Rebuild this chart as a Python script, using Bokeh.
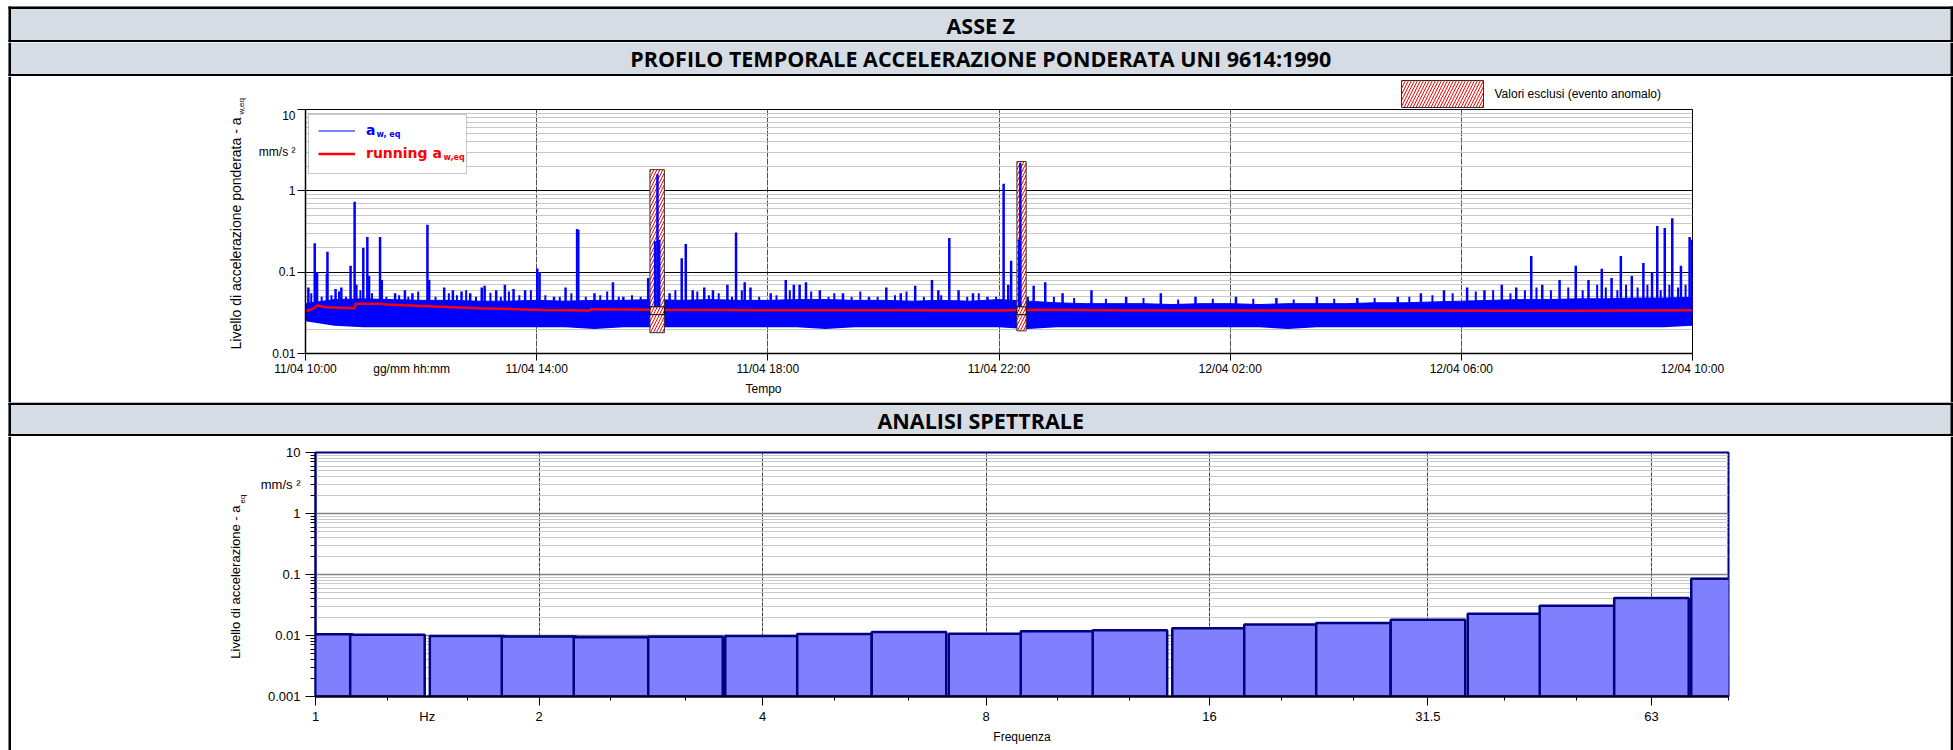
import math
from bokeh.plotting import figure
from bokeh.layouts import column, row
from bokeh.models import (Range1d, FixedTicker, Label, Legend, LegendItem, BoxAnnotation,
                          LinearAxis, LogAxis, Title)
from bokeh.core.properties import value
from bokeh.embed import file_html
from bokeh.resources import INLINE

# ---------------- data ----------------
HEADER_1 = "ASSE Z"
HEADER_2 = "PROFILO TEMPORALE ACCELERAZIONE PONDERATA UNI 9614:1990"
HEADER_3 = "ANALISI SPETTRALE"

# time axis: hours elapsed from 11/04 10:00
time_ticks = [0, 4, 8, 12, 16, 20, 24]
time_labels = ["11/04 10:00", "11/04 14:00", "11/04 18:00", "11/04 22:00",
               "12/04 02:00", "12/04 06:00", "12/04 10:00"]
time_unit_label = "gg/mm hh:mm"
time_unit_pos = 1.835
time_title = "Tempo"

# dense a_w,eq trace: envelope of the continuous band (every half hour)
band_t = [0.0, 0.5, 1.0, 1.5, 2.0, 2.5, 3.0, 3.5, 4.0, 4.5,
          5.0, 5.5, 6.0, 6.5, 7.0, 7.5, 8.0, 8.5, 9.0, 9.5,
          10.0, 10.5, 11.0, 11.5, 12.0, 12.5, 13.0, 13.5, 14.0, 14.5,
          15.0, 15.5, 16.0, 16.5, 17.0, 17.5, 18.0, 18.5, 19.0, 19.5,
          20.0, 20.5, 21.0, 21.5, 22.0, 22.5, 23.0, 23.5, 24.0]
band_lo = [0.025, 0.022, 0.021, 0.021, 0.021, 0.021, 0.021, 0.021, 0.021, 0.021,
           0.020, 0.021, 0.021, 0.021, 0.021, 0.021, 0.021, 0.021, 0.020, 0.021,
           0.021, 0.021, 0.021, 0.021, 0.021, 0.020, 0.021, 0.021, 0.021, 0.021,
           0.021, 0.021, 0.021, 0.021, 0.020, 0.021, 0.021, 0.021, 0.021, 0.021,
           0.021, 0.021, 0.021, 0.021, 0.021, 0.021, 0.021, 0.021, 0.022]
band_hi = [0.041, 0.046, 0.047, 0.046, 0.045, 0.045, 0.044, 0.044, 0.045, 0.044,
           0.045, 0.045, 0.046, 0.045, 0.046, 0.045, 0.045, 0.046, 0.046, 0.045,
           0.045, 0.044, 0.045, 0.044, 0.046, 0.044, 0.042, 0.041, 0.041, 0.041,
           0.040, 0.041, 0.041, 0.040, 0.041, 0.041, 0.041, 0.042, 0.042, 0.043,
           0.044, 0.045, 0.046, 0.046, 0.047, 0.047, 0.048, 0.048, 0.049]

# isolated peaks of the a_w,eq trace
spike_t = [0.05, 0.16, 0.20, 0.37, 0.38, 0.52, 0.62, 0.78, 0.85, 0.88,
           1.00, 1.07, 1.10, 1.29, 1.32, 1.55, 1.72, 1.85, 2.11, 2.14,
           2.40, 2.55, 2.70, 2.85, 3.05, 3.10, 3.30, 3.45, 3.60, 3.80,
           4.01, 4.05, 4.30, 4.50, 4.70, 4.72, 5.00, 5.32, 5.50, 5.93,
           6.05, 6.09, 6.12, 6.30, 6.51, 6.58, 6.70, 6.90, 7.05, 7.30,
           7.45, 7.60, 7.70, 8.05, 8.31, 8.45, 8.55, 8.66, 8.90, 9.30,
           9.75, 10.05, 10.30, 10.55, 10.84, 10.95, 11.14, 11.30, 11.55, 11.80,
           12.08, 12.16, 12.21, 12.35, 12.37, 12.60, 12.80, 13.10, 13.60, 14.20,
           14.80, 15.40, 16.10, 16.80, 17.50, 18.20, 18.90, 19.30, 19.70, 20.10,
           20.40, 20.70, 20.95, 21.21, 21.40, 21.70, 21.98, 22.20, 22.43, 22.60,
           22.76, 22.95, 23.15, 23.30, 23.39, 23.52, 23.65, 23.80, 23.95, 23.99]
spike_v = [0.065, 0.226, 0.100, 0.095, 0.178, 0.062, 0.065, 0.120, 0.735, 0.070,
           0.200, 0.270, 0.090, 0.270, 0.080, 0.055, 0.060, 0.055, 0.384, 0.080,
           0.065, 0.060, 0.058, 0.055, 0.065, 0.068, 0.060, 0.070, 0.062, 0.060,
           0.111, 0.100, 0.050, 0.065, 0.339, 0.330, 0.055, 0.075, 0.050, 0.085,
           0.240, 1.600, 0.250, 0.055, 0.148, 0.222, 0.060, 0.065, 0.060, 0.070,
           0.308, 0.075, 0.065, 0.055, 0.080, 0.070, 0.070, 0.075, 0.060, 0.055,
           0.050, 0.065, 0.055, 0.068, 0.080, 0.060, 0.263, 0.060, 0.055, 0.050,
           1.220, 0.070, 0.138, 0.250, 2.180, 0.068, 0.075, 0.055, 0.060, 0.050,
           0.055, 0.050, 0.050, 0.048, 0.050, 0.048, 0.050, 0.055, 0.060, 0.065,
           0.060, 0.070, 0.065, 0.158, 0.070, 0.080, 0.120, 0.080, 0.110, 0.085,
           0.158, 0.090, 0.130, 0.100, 0.370, 0.350, 0.460, 0.120, 0.270, 0.250]

# small peaks riding on the band
minor_t = [0.10, 0.28, 0.45, 0.58, 0.70, 0.95, 1.15, 1.40, 1.62, 1.78,
           1.95, 2.25, 2.48, 2.62, 2.78, 2.95, 3.20, 3.38, 3.52, 3.70,
           3.90, 4.15, 4.40, 4.60, 4.85, 5.10, 5.22, 5.42, 5.65, 5.80,
           6.40, 6.78, 6.98, 7.15, 7.38, 7.55, 7.85, 8.15, 8.38, 8.75,
           9.05, 9.15, 9.45, 9.60, 9.90, 10.20, 10.40, 10.70, 11.00, 11.45,
           11.65, 11.95, 12.50, 12.95, 13.30, 13.85, 14.50, 15.10, 15.70, 16.40,
           17.10, 17.80, 18.50, 19.10, 19.50, 19.85, 20.25, 20.55, 20.85, 21.10,
           21.30, 21.55, 21.85, 22.10, 22.35, 22.50, 22.70, 22.85, 23.05, 23.22,
           23.45, 23.60, 23.75, 23.88]
minor_v = [0.055, 0.050, 0.052, 0.058, 0.050, 0.060, 0.055, 0.050, 0.052, 0.050,
           0.058, 0.050, 0.055, 0.052, 0.060, 0.050, 0.056, 0.050, 0.058, 0.052,
           0.060, 0.052, 0.050, 0.055, 0.050, 0.052, 0.058, 0.050, 0.052, 0.050,
           0.060, 0.058, 0.052, 0.055, 0.050, 0.060, 0.050, 0.052, 0.060, 0.058,
           0.050, 0.055, 0.050, 0.058, 0.050, 0.052, 0.058, 0.050, 0.052, 0.050,
           0.055, 0.050, 0.050, 0.050, 0.048, 0.047, 0.048, 0.046, 0.047, 0.047,
           0.046, 0.047, 0.048, 0.050, 0.052, 0.055, 0.058, 0.060, 0.055, 0.060,
           0.065, 0.060, 0.065, 0.060, 0.070, 0.065, 0.060, 0.070, 0.065, 0.070,
           0.060, 0.070, 0.065, 0.070]

# running a_w,eq
run_t = [0.0, 0.15, 0.20, 0.35, 0.85, 0.87, 1.30, 1.40, 2.00, 3.00, 4.10,
         4.90, 4.95, 6.00, 8.00, 10.00, 12.00, 12.40, 14.00, 18.00, 22.00, 24.00]
run_v = [0.033, 0.036, 0.039, 0.037, 0.036, 0.041, 0.041, 0.040, 0.0385, 0.036, 0.0343,
         0.0337, 0.035, 0.0345, 0.034, 0.034, 0.0337, 0.0345, 0.034, 0.0337, 0.0335, 0.034]

# excluded (anomalous) intervals
excl_start = [5.96, 12.31]
excl_end = [6.21, 12.47]
excl_lo = [0.018, 0.019]
excl_hi = [1.82, 2.29]
excl_box_lo = [0.030, 0.030]
excl_box_hi = [0.0375, 0.0375]
excl_label = "Valori esclusi (evento anomalo)"

# third-octave spectrum
freq_centres = [1, 1.25, 1.6, 2, 2.5, 3.15, 4, 5, 6.3, 8,
                10, 12.5, 16, 20, 25, 31.5, 40, 50, 63, 80]
spectrum_vals = [0.0105, 0.0103, 0.0098, 0.0096, 0.0094, 0.0095, 0.0098, 0.0106, 0.0114, 0.0107,
                 0.0117, 0.0122, 0.0132, 0.0151, 0.0160, 0.0181, 0.0227, 0.0307, 0.0410, 0.0851]
freq_ticks = [1, 2, 4, 8, 16, 31.5, 63]
freq_labels = ["1", "2", "4", "8", "16", "31.5", "63"]
freq_minor = [1.25, 1.6, 2.5, 3.15, 5, 6.3, 10, 12.5, 20, 25, 40, 50, 80]
freq_unit_label = "Hz"
freq_unit_pos = 1.414
freq_title = "Frequenza"

acc_ticks_1 = [0.01, 0.1, 1, 10]
acc_labels_1 = ["0.01", "0.1", "1", "10"]
acc_ticks_2 = [0.001, 0.01, 0.1, 1, 10]
acc_labels_2 = ["0.001", "0.01", "0.1", "1", "10"]
acc_unit_label = "mm/s \u00b2"
acc_unit_pos_1 = 3.04
acc_unit_pos_2 = 2.98
ytitle_1 = "Livello di accelerazione ponderata - a"
ytitle_1_sub = "w,eq"
ytitle_2 = "Livello di accelerazione - a"
ytitle_2_sub = "eq"

# ---------------- layout constants ----------------
W = 1953
FONT = "Liberation Sans"
HDR_BG = "#D6DCE4"
LW = 2.5
XL = 8      # left border of the table
XR = 1950   # right border of the table


def log_minor(lo_exp, hi_exp):
    return [m * 10.0 ** e for e in range(lo_exp, hi_exp) for m in range(2, 10)]


def bare(width, height, xr, yr, bg="white", **kw):
    opts = dict(min_border=0)
    opts.update(kw)
    return figure(width=width, height=height, x_range=xr, y_range=yr,
                  x_axis_type=None, y_axis_type=None, toolbar_location=None,
                  output_backend="svg", title=None,
                  background_fill_color=bg, border_fill_color=bg,
                  outline_line_color=None, **opts)


def header(text, y0, y1, top_line, top_gap, text_y):
    h = y1 - y0
    p = bare(W, h, Range1d(0, W), Range1d(y1, y0))
    p.quad(left=[XL], right=[XR + LW], top=[y0 + top_gap], bottom=[y1],
           fill_color=HDR_BG, line_color=None)
    left = [XL, XR, XL]
    right = [XL + LW, XR + LW, XR + LW]
    top = [y0 + top_gap, y0 + top_gap, y1 - LW]
    bottom = [y1, y1, y1]
    if top_line:
        left.append(XL); right.append(XR + LW); top.append(y0 + top_gap); bottom.append(y0 + top_gap + LW)
    p.quad(left=left, right=right, top=top, bottom=bottom, fill_color="black", line_color=None)
    p.text(x=[(XL + XR + LW) / 2], y=[text_y], text=[text], text_font=value("Open Sans"),
           text_font_style="bold", text_font_size="21.5px", text_align="center",
           text_baseline="middle", text_color="black")
    return p


def left_strip(h):
    p = bare(XL + 3, h, Range1d(0, XL + 3), Range1d(0, 1))
    p.quad(left=[XL], right=[XL + LW], bottom=[0], top=[1], fill_color="black", line_color=None)
    return p


def right_strip(h):
    p = bare(W - XR, h, Range1d(0, W - XR), Range1d(0, 1))
    p.quad(left=[0], right=[LW], bottom=[0], top=[1], fill_color="black", line_color=None)
    return p


def side_titles(x0, x1, y0, y1, items):
    p = bare(x1 - x0, y1 - y0, Range1d(x0, x1), Range1d(y1, y0))
    for txt, x, y, size, align in items:
        p.text(x=[x], y=[y], text=[txt], angle=math.pi / 2, text_font=value(FONT),
               text_font_size=size, text_align=align, text_baseline="middle",
               text_color="black")
    return p


def tick_only(ax, out, minor_out=0):
    ax.major_tick_out = out
    ax.minor_tick_out = minor_out
    ax.major_tick_in = 0
    ax.minor_tick_in = 0
    ax.major_label_text_font_size = "0px"
    ax.major_label_standoff = 0
    ax.axis_line_color = "black"
    ax.major_tick_line_color = "black"
    ax.minor_tick_line_color = "black"


def label_axis(cls, ticks, labels, size, standoff):
    order = sorted(range(len(ticks)), key=lambda i: ticks[i])
    ts = [ticks[i] for i in order]
    return cls(ticker=FixedTicker(ticks=ts),
               major_label_overrides={ticks[i]: labels[i] for i in order},
               major_tick_out=0, major_tick_in=0, minor_tick_out=0, minor_tick_in=0,
               axis_line_color=None, major_label_standoff=standoff,
               major_label_text_font=FONT, major_label_text_font_size=size,
               major_label_text_color="black",
               axis_label_text_font=FONT, axis_label_text_font_style="normal",
               axis_label_text_color="black")


# ---------------- chart 1: time profile ----------------
Y1A, Y1L, Y1B = 76, 108, 402
P1X = 250
F1L, F1R = 305, 1692   # frame edges of the time chart on the page

# legend strip above the plot frame (excluded values); its frame is aligned with p1's
lg_fig = bare(XR - P1X, Y1L - Y1A, Range1d(F1L, F1R), Range1d(Y1L, Y1A),
              min_border_left=F1L - P1X, min_border_right=XR - F1R,
              min_border_top=0, min_border_bottom=0)
lg_fig.quad(left=[1401], right=[1483], top=[80], bottom=[107],
            fill_color="white", line_color="#303030", line_width=1,
            hatch_pattern="/", hatch_color="#FF0000", hatch_weight=1, hatch_scale=6)
lg_fig.text(x=[1494], y=[93.5], text=[excl_label], text_font=value(FONT),
            text_font_size="12px", text_align="left", text_baseline="middle",
            text_color="black")

p1 = figure(width=XR - P1X, height=Y1B - Y1L, x_range=Range1d(0, 24), y_range=Range1d(0.01, 10),
            y_axis_type="log", toolbar_location=None, output_backend="svg", title=None,
            min_border_left=F1L - P1X, min_border_right=XR - F1R, min_border_top=109 - Y1L,
            min_border_bottom=49, outline_line_color="black", outline_line_width=1,
            background_fill_color="white")

xt1 = FixedTicker(ticks=time_ticks)
yt1 = FixedTicker(ticks=acc_ticks_1, minor_ticks=log_minor(-2, 1))
p1.xaxis.ticker = xt1
p1.xgrid.ticker = xt1
p1.yaxis.ticker = yt1
p1.ygrid.ticker = yt1
p1.xaxis.major_label_overrides = {t: "" for t in time_ticks}
p1.yaxis.major_label_overrides = {t: "" for t in acc_ticks_1}
tick_only(p1.xaxis[0], 7)
tick_only(p1.yaxis[0], 8)
p1.xaxis.axis_line_width = 1.5
p1.yaxis.axis_line_width = 1.5

ax1x = label_axis(LinearAxis, time_ticks + [time_unit_pos], time_labels + [time_unit_label],
                  "12px", 1)
p1.add_layout(ax1x, "below")
ax1y = label_axis(LogAxis, acc_ticks_1 + [acc_unit_pos_1], acc_labels_1 + [acc_unit_label],
                  "12px", 2)
p1.add_layout(ax1y, "left")
p1.add_layout(Title(text=time_title, align="left", offset=440, standoff=2,
                    text_font=FONT, text_font_size="12px", text_font_style="normal",
                    text_color="black"), "below")

p1.xgrid.grid_line_color = "#505050"
p1.xgrid.grid_line_dash = "6 1"
p1.ygrid.grid_line_color = "black"
p1.ygrid.grid_line_width = 1.2
p1.ygrid.minor_grid_line_color = "#c8c8c8"

band = p1.varea(x=band_t, y1=band_lo, y2=band_hi, fill_color="#0000FF")
band_line = p1.line(x=band_t, y=band_hi, line_color="#0000FF", line_width=1)
p1.segment(x0=minor_t, y0=[0.03] * len(minor_t), x1=minor_t, y1=minor_v,
           line_color="#0000FF", line_width=2)
excl = p1.quad(left=excl_start, right=excl_end, bottom=excl_lo, top=excl_hi,
               fill_color="white", line_color="#303030", line_width=1,
               hatch_pattern="/", hatch_color="#FF0000", hatch_weight=1, hatch_scale=6)
p1.segment(x0=spike_t, y0=[0.03] * len(spike_t), x1=spike_t, y1=spike_v,
           line_color="#0000FF", line_width=2.5)
running = p1.line(x=run_t, y=run_v, line_color="#FF0000", line_width=2.5)
p1.quad(left=excl_start, right=excl_end, bottom=excl_box_lo, top=excl_box_hi,
        fill_color="white", line_color="black", line_width=1,
        hatch_pattern="/", hatch_color="#FF0000", hatch_weight=1, hatch_scale=6)

# series legend
p1.add_layout(BoxAnnotation(left=0.052, right=2.788, bottom=1.63, top=8.68,
                            fill_color="white", fill_alpha=1.0,
                            line_color="#404040", line_width=1, level="annotation"))
for item_label, rend, col, loc in (("a", band_line, "#0000FF", (13, 214.5)),
                                   ("running a", running, "#FF0000", (13, 191.5))):
    lg = Legend(items=[LegendItem(label=value(item_label), renderers=[rend])], location=loc,
                padding=0, margin=0, spacing=0, glyph_width=37, glyph_height=17,
                label_height=17, label_standoff=11, border_line_alpha=0,
                background_fill_alpha=0, label_text_font="DejaVu Sans",
                label_text_font_style="bold", label_text_font_size="14px",
                label_text_color=col)
    p1.add_layout(lg)
for txt, x, y, col in (("w, eq", 1.23, 4.92, "#0000FF"), ("w,eq", 2.39, 2.56, "#FF0000")):
    p1.add_layout(Label(x=x, y=y, text=txt, text_font="DejaVu Sans", text_font_style="bold",
                        text_font_size="8px", text_color=col, text_baseline="middle",
                        text_align="left"))

t1 = side_titles(XL + 3, P1X, Y1A, Y1B,
                 [(ytitle_1, 235, 117, "14px", "right"),
                  (ytitle_1_sub, 241, 114, "8px", "left")])

# ---------------- chart 2: spectrum ----------------
Y2A, Y2B = 436, 750
P2X = 257
p2 = figure(width=XR - P2X, height=Y2B - Y2A, x_range=Range1d(1, 80), y_range=Range1d(0.001, 10),
            x_axis_type="log", y_axis_type="log", toolbar_location=None,
            output_backend="svg", title=None,
            min_border_left=313 - P2X, min_border_right=XR - 1728, min_border_top=16,
            min_border_bottom=Y2B - 696,
            outline_line_color="#000080", outline_line_width=2, background_fill_color="white")

xt2 = FixedTicker(ticks=freq_ticks, minor_ticks=freq_minor)
yt2 = FixedTicker(ticks=acc_ticks_2, minor_ticks=log_minor(-3, 1))
p2.xaxis.ticker = xt2
p2.xgrid.ticker = xt2
p2.yaxis.ticker = yt2
p2.ygrid.ticker = yt2
p2.xaxis.major_label_overrides = {t: "" for t in freq_ticks}
p2.yaxis.major_label_overrides = {t: "" for t in acc_ticks_2}
tick_only(p2.xaxis[0], 9, 4)
tick_only(p2.yaxis[0], 10, 5)
p2.xaxis.axis_line_width = 2
p2.yaxis.axis_line_width = 2
p2.yaxis.axis_line_color = "#000080"

ax2x = label_axis(LogAxis, freq_ticks + [freq_unit_pos], freq_labels + [freq_unit_label],
                  "13px", 3)
ax2x.axis_label = freq_title
ax2x.axis_label_text_font_size = "12px"
ax2x.axis_label_standoff = 3
p2.add_layout(ax2x, "below")
ax2y = label_axis(LogAxis, acc_ticks_2 + [acc_unit_pos_2], acc_labels_2 + [acc_unit_label],
                  "13px", 5)
p2.add_layout(ax2y, "left")

p2.xgrid.grid_line_color = "#404040"
p2.xgrid.grid_line_dash = "4 1"
p2.xgrid.minor_grid_line_color = None
p2.ygrid.grid_line_color = "#808080"
p2.ygrid.grid_line_width = 1.5
p2.ygrid.minor_grid_line_color = "#c8c8c8"

bar_left = [c * 2 ** (-1 / 6) for c in freq_centres]
bar_right = [c * 2 ** (1 / 6) for c in freq_centres]
p2.quad(left=bar_left, right=bar_right, bottom=0.001, top=spectrum_vals,
        fill_color="#8080FF", line_color="#000080", line_width=2.5)

t2 = side_titles(XL + 3, P2X, Y2A, Y2B,
                 [(ytitle_2, 235, 505, "13px", "right"),
                  (ytitle_2_sub, 242, 503, "8px", "left")])

# ---------------- page ----------------
layout = column(
    header(HEADER_1, 0, 42, True, 6, 25),
    header(HEADER_2, 42, 76, False, 0, 58),
    row(left_strip(Y1B - Y1A), t1, column(lg_fig, p1), right_strip(Y1B - Y1A)),
    header(HEADER_3, 402, 436, True, 0, 419.5),
    row(left_strip(Y2B - Y2A), t2, column(p2), right_strip(Y2B - Y2A)),
)

open("out.html", "w").write(file_html(layout, INLINE))
